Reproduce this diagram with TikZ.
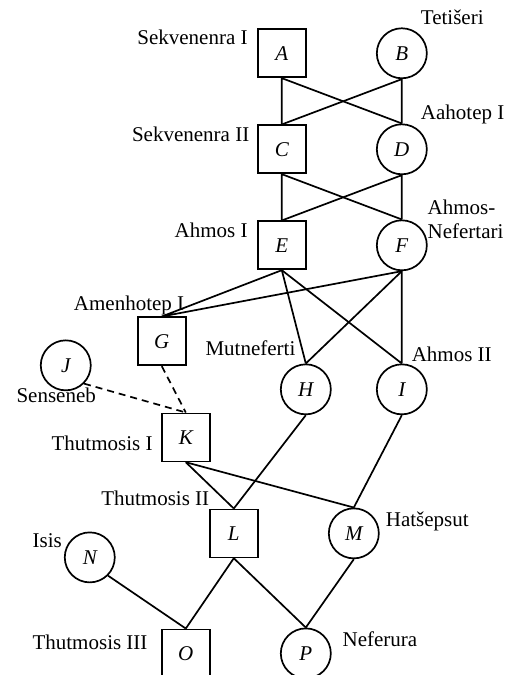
\documentclass[tikz,border=0pt]{standalone}
\usepackage{fontspec}
\setmainfont{Liberation Serif}
\usepackage{tikz}

\begin{document}
\fontsize{10.5}{12}\selectfont
\begin{tikzpicture}[x=12pt,y=12pt,line width=0.85pt,
        man/.style={draw,rectangle,minimum size=24pt,inner sep=0pt,font=\itshape},
        woman/.style={draw,circle,minimum size=25pt,inner sep=0pt,font=\itshape},
        lname/.style={inner sep=0pt,anchor=base east},
        rname/.style={inner sep=0pt,anchor=base west},
        kin/.style={dash pattern=on 3.5pt off 2.5pt}]
                \useasboundingbox (-11.74,2.22) rectangle (9.60,-25.90);
                % persons
                \node[man]   (A) at (0,0)    {A};
                \node[woman] (B) at (5,0)    {B};
                \node[man]   (C) at (0,-4)   {C};
                \node[woman] (D) at (5,-4)   {D};
                \node[man]   (E) at (0,-8)   {E};
                \node[woman] (F) at (5,-8)   {F};
                \node[man]   (G) at (-5,-12) {G};
                \node[woman] (H) at (1,-14)  {H};
                \node[woman] (I) at (5,-14)  {I};
                \node[woman] (J) at (-9,-13) {J};
                \node[man]   (K) at (-4,-16) {K};
                \node[man]   (L) at (-2,-20) {L};
                \node[woman] (M) at (3,-20)  {M};
                \node[woman] (N) at (-8,-21) {N};
                \node[man]   (O) at (-4,-25) {O};
                \node[woman] (P) at (1,-25)  {P};
                % names
                \node[lname] (nA) at (-1.39,0.35)   {Sekvenenra I};
                \node[rname] (nB) at (5.76,1.18)    {Tetišeri};
                \node[lname] (nC) at (-1.32,-3.68)  {Sekvenenra II};
                \node[rname] (nD) at (5.76,-2.75)   {Aahotep I};
                \node[lname] (nE) at (-1.39,-7.67)  {Ahmos I};
                \node[inner sep=0pt,anchor=north west,align=left] (nF) at (6.04,-6.07) {Ahmos-\\Nefertari};
                \node[lname] (nG) at (-4.03,-10.70) {Amenhotep I};
                \node[lname] (nH) at (0.60,-12.61)  {Mutneferti};
                \node[rname] (nI) at (5.38,-12.85)  {Ahmos II};
                \node[lname] (nJ) at (-7.71,-14.56) {Senseneb};
                \node[lname] (nK) at (-5.35,-16.53) {Thutmosis I};
                \node[lname] (nL) at (-2.99,-18.82) {Thutmosis II};
                \node[rname] (nM) at (4.30,-19.70)  {Hatšepsut};
                \node[lname] (nN) at (-9.13,-20.58) {Isis};
                \node[lname] (nO) at (-5.56,-24.83) {Thutmosis III};
                \node[rname] (nP) at (2.50,-24.72)  {Neferura};
                % descent
                \draw (A.south) -- (C.north) (A.south) -- (D.north);
                \draw (B.south) -- (C.north) (B.south) -- (D.north);
                \draw (C.south) -- (E.north) (C.south) -- (F.north);
                \draw (D.south) -- (E.north) (D.south) -- (F.north);
                \draw (E.south) -- (G.north) (F.south) -- (G.north);
                \draw (E.south) -- (H.north) (F.south) -- (H.north);
                \draw (E.south) -- (I.north) (F.south) -- (I.north);
                \draw[kin] (G.south) -- (K.north);
                \draw[kin] (J.south east) -- (K.north);
                \draw (K.south) -- (L.north) (H.south) -- (L.north);
                \draw (K.south) -- (M.north) (I.south) -- (M.north);
                \draw (L.south) -- (O.north) (N.south east) -- (O.north);
                \draw (L.south) -- (P.north) (M.south) -- (P.north);
            \end{tikzpicture}
\end{document}
